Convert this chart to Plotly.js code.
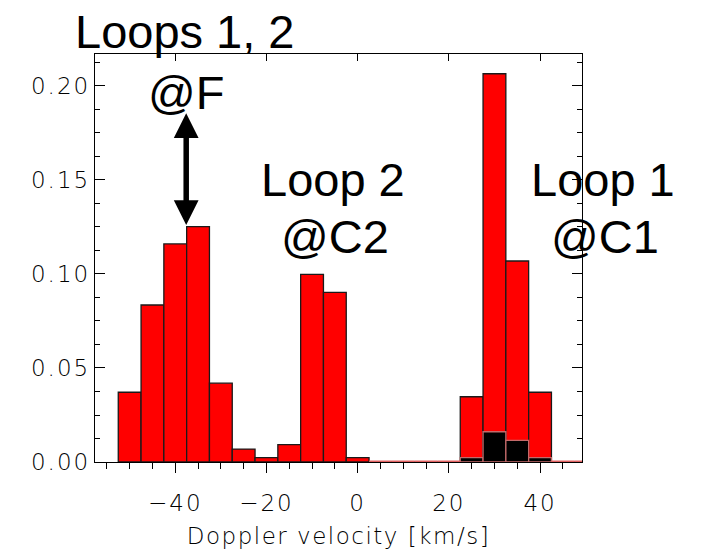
<!DOCTYPE html>
<html>
<head>
<meta charset="utf-8">
<script src="https://cdn.plot.ly/plotly-3.0.1.min.js"></script>
<style>
  html, body { margin: 0; padding: 0; background: #fff; }
  .xtick text, .ytick text { letter-spacing: 2px; }
  .g-xtitle text { letter-spacing: 1.5px; }
</style>
</head>
<body>
<div id="chart" style="width:703px;height:550px;"></div>
<script>
// Histogram bin centres (km/s), bin width 5
const binCenters = [-50, -45, -40, -35, -30, -25, -20, -15, -10, -5, 0, 5, 10, 15, 20, 25, 30, 35, 40, 45, 50];
// All pixels (red histogram)
const allFraction = [0.0371, 0.0835, 0.116, 0.1252, 0.0419, 0.0069, 0.0023, 0.0092, 0.0998, 0.0902, 0.0023,
                     0, 0, 0, 0, 0.0347, 0.2065, 0.1069, 0.0371, 0, 0];
// Subset (black histogram)
const subsetFraction = [0, 0, 0, 0, 0, 0, 0, 0, 0, 0, 0,
                        0, 0, 0, 0, 0.0023, 0.0161, 0.0115, 0.0023, 0, 0];
const binWidth = 5;

const xTickVals = [-40, -20, 0, 20, 40];
const yTickVals = [0.00, 0.05, 0.10, 0.15, 0.20];

const labels = [
  {text: "Loops 1, 2", px: 185, py: 32},
  {text: "@F", px: 186, py: 92},
  {text: "Loop 2", px: 332.5, py: 179},
  {text: "@C2", px: 334.5, py: 236},
  {text: "Loop 1", px: 603, py: 179},
  {text: "@C1", px: 605, py: 236}
];
const arrowX = -37.6;
const arrowYTop = 0.1863;
const arrowYBottom = 0.126;

// plot area (pixels)
const L = 95, R = 121, T = 54, B = 88, W = 703, H = 550;
const pw = W - L - R, ph = H - T - B;

// red zero-bins baseline segments derived from data
const zx = [], zy = [];
binCenters.forEach((c, i) => {
  if (allFraction[i] === 0) { zx.push(c - binWidth/2, c + binWidth/2, null); zy.push(0, 0, null); }
});

const redBars = {
  type: 'bar', x: binCenters, y: allFraction, width: binWidth,
  marker: {color: '#ff0000', line: {color: '#1a1a1a', width: 1.3}},
  hoverinfo: 'skip', showlegend: false
};
const blackIdx = subsetFraction.map((v, i) => i).filter(i => subsetFraction[i] > 0);
const blackBars = {
  type: 'bar', x: blackIdx.map(i => binCenters[i]), y: blackIdx.map(i => subsetFraction[i]), width: binWidth,
  marker: {color: '#000000', line: {color: '#c46a6a', width: 1.3}},
  hoverinfo: 'skip', showlegend: false
};
const zeroLine = {
  type: 'scatter', mode: 'lines', x: zx, y: zy,
  line: {color: '#e06060', width: 3}, hoverinfo: 'skip', showlegend: false
};
const topDummy = {type: 'scatter', x: [binCenters[0]], y: [0], xaxis: 'x2', mode: 'markers',
  marker: {opacity: 0}, hoverinfo: 'skip', showlegend: false};

const tickFont = {family: 'DejaVu Sans', size: 23, color: '#000', weight: 200};

const annotations = labels.map(l => ({
  xref: 'paper', yref: 'paper',
  x: (l.px - L) / pw, y: (H - B - l.py) / ph,
  xanchor: 'center', yanchor: 'middle',
  text: l.text, showarrow: false,
  font: {family: 'Liberation Sans, Arial, sans-serif', size: 47, color: '#000'}
}));
annotations.push({
  xref: 'x', yref: 'y', axref: 'x', ayref: 'y',
  x: arrowX, y: arrowYBottom, ax: arrowX, ay: arrowYTop,
  text: '', showarrow: true, arrowside: 'end+start',
  arrowhead: 2, startarrowhead: 2, arrowwidth: 5.5, arrowsize: 0.9, startarrowsize: 0.9,
  arrowcolor: '#000', standoff: 0, startstandoff: 0
});

const layout = {
  width: W, height: H,
  margin: {l: L, r: R, t: T, b: B, pad: 0},
  paper_bgcolor: '#fff', plot_bgcolor: '#fff',
  barmode: 'overlay', bargap: 0,
  showlegend: false,
  xaxis: {
    range: [-57.6, 49.2], autorange: false,
    tickvals: xTickVals, ticktext: xTickVals.map(v => v < 0 ? '\u2212' + Math.abs(v) : String(v)),
    ticks: 'outside', ticklen: 10, tickwidth: 1, tickcolor: '#000',
    minor: {dtick: 5, tick0: 0, ticks: 'outside', ticklen: 6, tickwidth: 1, tickcolor: '#000', showgrid: false},
    showline: true, linecolor: '#000', linewidth: 1.2, mirror: false,
    showgrid: false, zeroline: false, layer: 'below traces',
    tickfont: tickFont, ticklabelstandoff: 10,
    title: {text: 'Doppler velocity [km/s]', font: {family: 'DejaVu Sans', size: 23, color: '#000', weight: 200}, standoff: 13},
    automargin: false
  },
  xaxis2: {
    overlaying: 'x', side: 'top', range: [-57.6, 49.2], autorange: false,
    tickvals: xTickVals, ticks: 'inside', ticklen: 7, tickwidth: 1, tickcolor: '#000',
    showticklabels: false, showline: true, linecolor: '#000', linewidth: 1.2,
    showgrid: false, zeroline: false, layer: 'below traces'
  },
  yaxis: {
    range: [0, 0.217], autorange: false,
    tickvals: yTickVals, ticktext: yTickVals.map(v => v.toFixed(2)),
    ticks: 'inside', ticklen: 10, tickwidth: 1, tickcolor: '#000',
    minor: {dtick: 0.0125, tick0: 0, ticks: 'inside', ticklen: 5, tickwidth: 1, tickcolor: '#000', showgrid: false},
    showline: true, linecolor: '#000', linewidth: 1.2, mirror: 'ticks',
    showgrid: false, zeroline: false, layer: 'below traces',
    tickfont: tickFont, ticklabelstandoff: -1, automargin: false
  },
  annotations: annotations
};

Plotly.newPlot('chart', [redBars, blackBars, zeroLine, topDummy], layout, {displayModeBar: false, staticPlot: true});
</script>
</body>
</html>
